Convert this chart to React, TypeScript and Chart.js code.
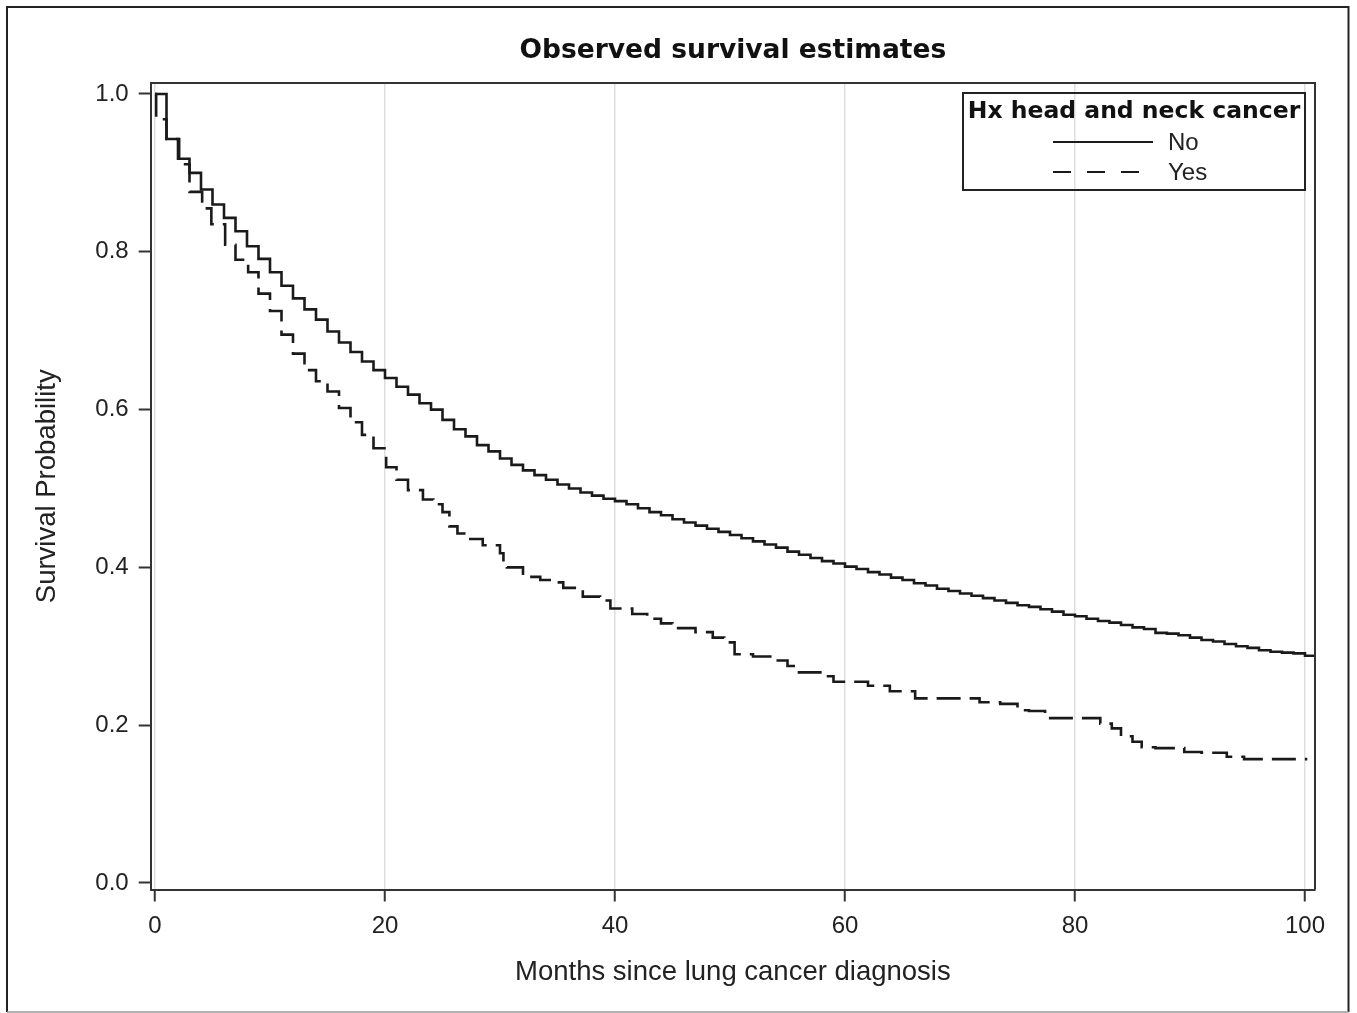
import React, { useEffect, useRef } from 'react';
import { Chart, registerables } from 'chart.js';

Chart.register(...registerables);

const chartTitle = 'Observed survival estimates';
const xAxisTitle = 'Months since lung cancer diagnosis';
const yAxisTitle = 'Survival Probability';
const legendTitle = 'Hx head and neck cancer';
const groupLabels = ['No', 'Yes'];

const xTicks = [0, 20, 40, 60, 80, 100];
const yTicks = [0, 0.2, 0.4, 0.6, 0.8, 1.0];

const noTimes = [
  0, 1, 2, 3, 4, 5, 6, 7, 8, 9,
  10, 11, 12, 13, 14, 15, 16, 17, 18, 19,
  20, 21, 22, 23, 24, 25, 26, 27, 28, 29,
  30, 31, 32, 33, 34, 35, 36, 37, 38, 39,
  40, 41, 42, 43, 44, 45, 46, 47, 48, 49,
  50, 51, 52, 53, 54, 55, 56, 57, 58, 59,
  60, 61, 62, 63, 64, 65, 66, 67, 68, 69,
  70, 71, 72, 73, 74, 75, 76, 77, 78, 79,
  80, 81, 82, 83, 84, 85, 86, 87, 88, 89,
  90, 91, 92, 93, 94, 95, 96, 97, 98, 99,
  100, 100.9,
];
const noSurv = [
  1.0, 0.943, 0.918, 0.9, 0.879, 0.86, 0.843, 0.826, 0.807, 0.791,
  0.774, 0.757, 0.741, 0.727, 0.714, 0.699, 0.685, 0.673, 0.661, 0.65,
  0.64, 0.629, 0.619, 0.608, 0.6, 0.587, 0.575, 0.566, 0.555, 0.547,
  0.538, 0.53, 0.523, 0.517, 0.511, 0.505, 0.5, 0.495, 0.491, 0.487,
  0.484, 0.48, 0.475, 0.47, 0.466, 0.461, 0.457, 0.453, 0.449, 0.445,
  0.441, 0.437, 0.433, 0.429, 0.425, 0.42, 0.416, 0.412, 0.408, 0.405,
  0.401, 0.398, 0.394, 0.391, 0.387, 0.384, 0.38, 0.377, 0.373, 0.37,
  0.367, 0.364, 0.361, 0.358, 0.355, 0.352, 0.35, 0.347, 0.344, 0.34,
  0.338, 0.335, 0.332, 0.33, 0.327, 0.324, 0.322, 0.317, 0.316, 0.314,
  0.311, 0.308, 0.306, 0.303, 0.3, 0.298, 0.295, 0.293, 0.292, 0.291,
  0.288, 0.288,
];

const yesTimes = [
  0, 0.1, 1, 2.1, 3, 4.1, 4.9, 6.1, 7, 8.1,
  9, 10, 11, 12, 13, 14, 15, 16, 17, 18,
  19, 20.1, 21, 22, 23.3, 24.2, 25, 25.6, 26.3, 27.1,
  28.5, 30, 30.3, 30.6, 32, 33.5, 34.5, 35.5, 37.2, 38.7,
  39.6, 41.5, 42.8, 44, 45, 47, 48.5, 49.5, 50.4, 52,
  53.5, 55, 56, 58, 59, 62, 63.9, 66.1, 71.7, 73.5,
  75, 76, 77.4, 82.2, 83.2, 84, 85, 85.8, 87, 89.5,
  91, 93.2, 94.7, 100.2,
];
const yesSurv = [
  1.0, 0.968, 0.943, 0.911, 0.876, 0.855, 0.835, 0.809, 0.79, 0.774,
  0.747, 0.725, 0.695, 0.671, 0.65, 0.636, 0.623, 0.602, 0.584, 0.568,
  0.551, 0.527, 0.511, 0.498, 0.486, 0.48, 0.47, 0.452, 0.443, 0.436,
  0.428, 0.418, 0.409, 0.4, 0.388, 0.384, 0.381, 0.374, 0.363, 0.358,
  0.348, 0.341, 0.335, 0.329, 0.323, 0.318, 0.311, 0.305, 0.29, 0.287,
  0.282, 0.275, 0.267, 0.262, 0.255, 0.25, 0.243, 0.234, 0.229, 0.227,
  0.219, 0.218, 0.209, 0.202, 0.196, 0.186, 0.179, 0.172, 0.171, 0.166,
  0.165, 0.16, 0.157, 0.157,
];

const INK = '#1a1a1a';
const AXIS = '#333333';
const SANS = '"Liberation Sans", Arial, sans-serif';
const BOLD_SANS = '"DejaVu Sans", Verdana, sans-serif';

const decorPlugin = {
  id: 'decor',
  afterDraw(chart: any) {
    const { ctx, chartArea } = chart;
    const { left, right, top, bottom } = chartArea;
    ctx.save();
    // plot frame (top & right)
    ctx.strokeStyle = AXIS;
    ctx.lineWidth = 2;
    ctx.beginPath();
    ctx.moveTo(left, top);
    ctx.lineTo(right, top);
    ctx.lineTo(right, bottom);
    ctx.stroke();

    // title
    ctx.fillStyle = '#111';
    ctx.font = `bold 26.5px ${BOLD_SANS}`;
    ctx.textAlign = 'center';
    ctx.textBaseline = 'alphabetic';
    ctx.fillText(chartTitle, (left + right) / 2, 58);

    // legend
    const lx = 963, ly = 93, lw = 342, lh = 97;
    ctx.strokeStyle = '#222';
    ctx.lineWidth = 2;
    ctx.strokeRect(lx, ly, lw, lh);
    ctx.font = `bold 23.5px ${BOLD_SANS}`;
    ctx.fillStyle = '#111';
    ctx.fillText(legendTitle, lx + lw / 2, 118);

    const ds = chart.data.datasets;
    const rows = [142, 172];
    ds.forEach((d: any, i: number) => {
      const y = rows[i];
      ctx.beginPath();
      ctx.strokeStyle = INK;
      ctx.lineWidth = 2.2;
      ctx.setLineDash(i === 0 ? [] : [18, 16]);
      ctx.moveTo(1053, y);
      ctx.lineTo(i === 0 ? 1153 : 1143, y);
      ctx.stroke();
      ctx.setLineDash([]);
      ctx.font = `24px ${SANS}`;
      ctx.fillStyle = '#222';
      ctx.textAlign = 'left';
      ctx.textBaseline = 'middle';
      ctx.fillText(d.label, 1168, y + 1);
    });

    // outer border
    ctx.strokeStyle = '#222';
    ctx.lineWidth = 2;
    ctx.beginPath();
    ctx.moveTo(7, 1012);
    ctx.lineTo(7, 7);
    ctx.lineTo(1348.5, 7);
    ctx.lineTo(1348.5, 1012);
    ctx.stroke();
    ctx.strokeStyle = '#9a9a9a';
    ctx.lineWidth = 1.5;
    ctx.beginPath();
    ctx.moveTo(7, 1012);
    ctx.lineTo(1348.5, 1012);
    ctx.stroke();
    ctx.restore();
  },
};

export default function App() {
  const ref = useRef<HTMLCanvasElement | null>(null);

  useEffect(() => {
    if (!ref.current) return;
    const chart = new Chart(ref.current, {
      type: 'line',
      data: {
        datasets: [
          {
            label: groupLabels[0],
            data: noTimes.map((t, i) => ({ x: t, y: noSurv[i] })),
            stepped: 'before',
            borderColor: INK,
            borderWidth: 2.6,
            pointRadius: 0,
            fill: false,
          },
          {
            label: groupLabels[1],
            data: yesTimes.map((t, i) => ({ x: t, y: yesSurv[i] })),
            stepped: 'before',
            borderColor: INK,
            borderWidth: 2.6,
            borderDash: [24, 9],
            pointRadius: 0,
            fill: false,
          },
        ],
      },
      options: {
        responsive: false,
        animation: false,
        layout: { padding: { left: 0, right: 42, top: 83, bottom: 0 } },
        plugins: {
          legend: { display: false },
          tooltip: { enabled: false },
          title: { display: false },
        },
        scales: {
          x: {
            type: 'linear',
            min: -0.374,
            max: 100.87,
            afterBuildTicks: (s: any) => {
              s.ticks = xTicks.map((v) => ({ value: v }));
            },
            afterFit: (s: any) => {
              s.height = 123.5;
            },
            ticks: {
              font: { family: SANS, size: 24 },
              color: '#222',
              padding: 10.5,
              maxRotation: 0,
              callback: (v: any) => String(v),
            },
            grid: {
              color: 'rgba(0,0,0,0.13)',
              lineWidth: 1.5,
              tickColor: AXIS,
              tickWidth: 2,
              tickLength: 12,
              drawTicks: true,
            },
            border: { display: true, color: AXIS, width: 2 },
            title: {
              display: true,
              text: xAxisTitle,
              font: { family: SANS, size: 27.5 },
              color: '#222',
              padding: { top: 0, bottom: 24.5 },
            },
          },
          y: {
            type: 'linear',
            min: -0.00824,
            max: 1.01394,
            afterBuildTicks: (s: any) => {
              s.ticks = yTicks.map((v) => ({ value: v }));
            },
            afterFit: (s: any) => {
              s.width = 150.7;
            },
            ticks: {
              font: { family: SANS, size: 24 },
              color: '#222',
              padding: 10,
              callback: (v: any) => Number(v).toFixed(1),
            },
            grid: {
              drawOnChartArea: false,
              color: AXIS,
              tickColor: AXIS,
              tickWidth: 2,
              tickLength: 12,
              drawTicks: true,
            },
            border: { display: true, color: AXIS, width: 2 },
            title: {
              display: true,
              text: yAxisTitle,
              font: { family: SANS, size: 27.5 },
              color: '#222',
              padding: { top: 31, bottom: 0 },
            },
          },
        },
      } as any,
      plugins: [decorPlugin],
    });
    return () => chart.destroy();
  }, []);

  return (
    <div style={{ position: 'fixed', left: 0, top: 0, width: 1357, height: 1013, background: '#fff' }}>
      <canvas ref={ref} width={1357} height={1013} style={{ width: 1357, height: 1013, display: 'block' }} />
    </div>
  );
}
